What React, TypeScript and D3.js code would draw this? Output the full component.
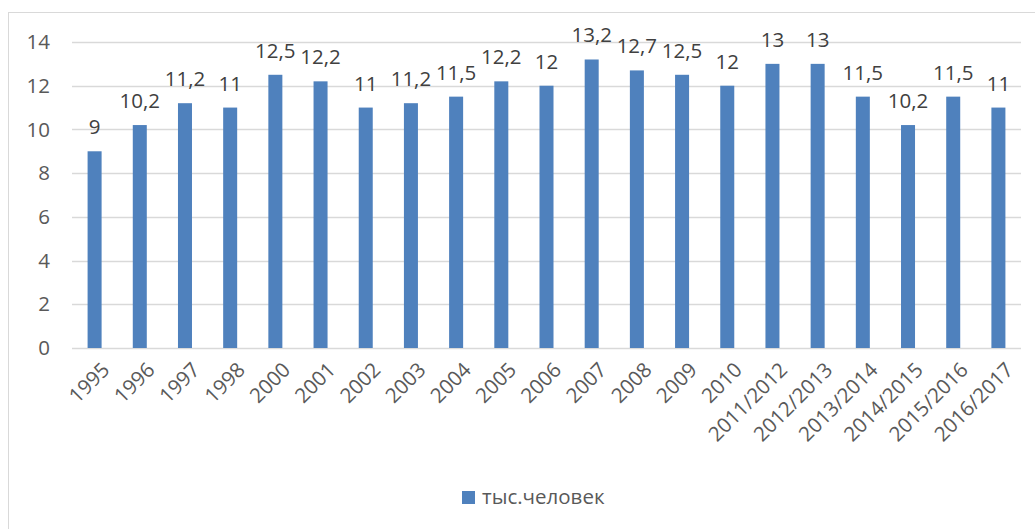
import React, {useRef, useEffect} from 'react';
import * as d3 from 'd3';

// категории по оси X
const years = [
  '1995', '1996', '1997', '1998', '2000', '2001', '2002', '2003', '2004', '2005', '2006',
  '2007', '2008', '2009', '2010', '2011/2012', '2012/2013', '2013/2014', '2014/2015',
  '2015/2016', '2016/2017'
];
// тыс. человек
const values = [9, 10.2, 11.2, 11, 12.5, 12.2, 11, 11.2, 11.5, 12.2, 12, 13.2, 12.7, 12.5, 12, 13, 13, 11.5, 10.2, 11.5, 11];
const yTicks = [0, 2, 4, 6, 8, 10, 12, 14];
const seriesName = 'тыс.человек';

export default function App() {
  const ref = useRef<SVGSVGElement>(null);

  useEffect(() => {
    const svg = d3.select(ref.current);
    svg.selectAll('*').remove();

    const font = '"Open Sans", sans-serif';
    const fs = 20.5;
    const textColor = '#595959';
    const barColor = '#4F81BD';

    // рамка диаграммы
    svg.append('rect')
      .attr('x', 8.5).attr('y', 12.5)
      .attr('width', 1100).attr('height', 600)
      .attr('fill', '#fff')
      .attr('stroke', '#D9D9D9');

    const left = 72, right = 1021, top = 42, bottom = 348;

    const x = d3.scaleBand()
      .domain(years)
      .range([left, right])
      .paddingInner(0.69)
      .paddingOuter(0.345);

    const y = d3.scaleLinear()
      .domain([0, 14])
      .range([bottom, top]);

    // сетка
    svg.append('g')
      .selectAll('line')
      .data(yTicks)
      .enter()
      .append('line')
      .attr('x1', left).attr('x2', right)
      .attr('y1', d => Math.round(y(d)) + 0.5)
      .attr('y2', d => Math.round(y(d)) + 0.5)
      .attr('stroke', '#D9D9D9')
      .attr('stroke-width', 1.5);

    // подписи оси Y
    svg.append('g')
      .selectAll('text')
      .data(yTicks)
      .enter()
      .append('text')
      .attr('x', 50)
      .attr('y', d => y(d))
      .attr('dy', '0.35em')
      .attr('text-anchor', 'end')
      .attr('font-family', font)
      .attr('font-size', fs)
      .attr('fill', textColor)
      .text(d => d);

    // столбцы
    svg.append('g')
      .selectAll('rect')
      .data(values)
      .enter()
      .append('rect')
      .attr('x', (d, i) => x(years[i]))
      .attr('y', d => y(d))
      .attr('width', x.bandwidth())
      .attr('height', d => y(0) - y(d))
      .attr('fill', barColor);

    // подписи значений
    svg.append('g')
      .selectAll('text')
      .data(values)
      .enter()
      .append('text')
      .attr('x', (d, i) => x(years[i]) + x.bandwidth() / 2)
      .attr('y', d => y(d) - 17)
      .attr('text-anchor', 'middle')
      .attr('font-family', font)
      .attr('font-size', fs)
      .attr('fill', '#404040')
      .text(d => String(d).replace('.', ','));

    // подписи оси X
    svg.append('g')
      .selectAll('text')
      .data(years)
      .enter()
      .append('text')
      .attr('transform', d => `translate(${x(d) + x.bandwidth() / 2 + 6},${bottom + 13}) rotate(-45)`)
      .attr('dy', '0.7em')
      .attr('text-anchor', 'end')
      .attr('font-family', font)
      .attr('font-size', fs)
      .attr('fill', textColor)
      .text(d => d);

    // легенда
    const lg = svg.append('g').attr('transform', 'translate(462,491)');
    lg.append('rect')
      .attr('width', 13).attr('height', 13)
      .attr('fill', barColor);
    lg.append('text')
      .attr('x', 20).attr('y', 13)
      .attr('font-family', font)
      .attr('font-size', fs)
      .attr('fill', textColor)
      .text(seriesName);
  }, []);

  return (
    <svg ref={ref} width={1035} height={529}
      style={{position: 'absolute', top: 0, left: 0, background: '#fff'}}></svg>
  );
}
